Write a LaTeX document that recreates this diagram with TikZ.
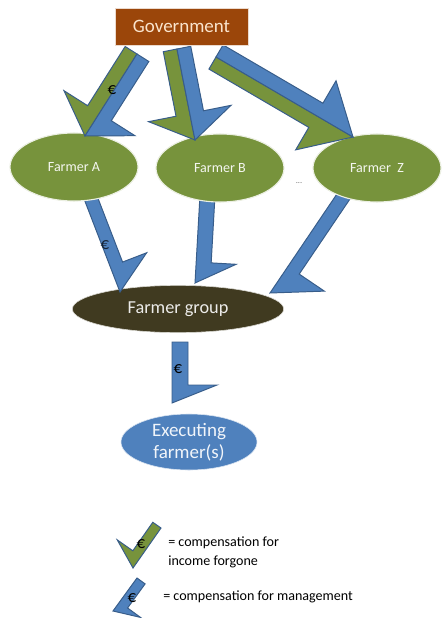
\documentclass[tikz,border=0pt]{standalone}
\usepackage{fontspec}
\setmainfont{Carlito}
\usetikzlibrary{calc,shapes.geometric}
\definecolor{GovBrown}{RGB}{155,70,10}
\definecolor{GovText}{RGB}{250,228,205}
\definecolor{FarmGreen}{RGB}{119,147,60}
\definecolor{PayBlue}{RGB}{79,129,189}
\definecolor{PayLine}{RGB}{56,93,138}
\definecolor{GroupBrown}{RGB}{64,58,32}
\tikzset{govbox/.style={rectangle,fill=GovBrown,draw=white!80!GovBrown,text=GovText,font=\fontsize{13.5}{16}\selectfont,minimum width=3.325cm,minimum height=0.925cm},
farmer/.style={ellipse,fill=FarmGreen,draw=white!85!FarmGreen,line width=0.8pt,text=white!92!FarmGreen,font=\fontsize{10}{12}\selectfont,minimum width=3.2cm,minimum height=1.7cm},
group/.style={ellipse,fill=GroupBrown,draw=white!80!GroupBrown,text=white!90!GroupBrown,font=\fontsize{13}{15}\selectfont,minimum width=5.28cm,minimum height=1.18cm},
executing/.style={ellipse,fill=PayBlue,draw=white!80!PayBlue,text=white!92!PayBlue,font=\fontsize{13.5}{15.6}\selectfont,align=center,inner sep=0pt,minimum width=3.4cm,minimum height=1.4cm},
euro/.style={inner sep=0pt,font=\fontsize{12}{14}\selectfont},
legtext/.style={anchor=west,align=left,inner sep=0pt,font=\fontsize{10}{13.5}\selectfont}}

% half arrow: fill, side (1 = barb left of travel, -1 = right), tail, tip
\newcommand{\setarrow}[3]{\def\aw{#1}\def\ah{#2}\def\ab{#3}}
\newcommand{\halfarrow}[4]{
\filldraw[fill=#1,draw=PayLine,line width=0.7pt,line join=miter] (#3) -- (#4) -- ($(#4)!\ah!(#3)!#2*\ab!-90:(#3)$) -- ($(#4)!\ah!(#3)!#2*\aw!-90:(#3)$) -- ($(#3)!#2*\aw!90:(#4)$) -- cycle;
}

\begin{document}
\begin{tikzpicture}[x=0.025cm,y=-0.025cm]
\useasboundingbox (0,0) rectangle (441,618);
% arrow ends
\coordinate (govA) at (137,54);
\coordinate (tipA) at (85,136);
\coordinate (govB) at (177,49);
\coordinate (tipB) at (195,140);
\coordinate (govZ) at (216,57);
\coordinate (tipZ) at (353,137);
\coordinate (outA) at (81,191);
\coordinate (inA) at (120,292);
\coordinate (outB) at (200,195);
\coordinate (inB) at (195,283);
\coordinate (outZ) at (343,185);
\coordinate (inZ) at (270,293);
\coordinate (grpout) at (172,342);
\coordinate (exein) at (172,403);
\coordinate (legGs) at (161,528);
\coordinate (legGe) at (133,568);
\coordinate (legBs) at (137,578);
\coordinate (legBe) at (113,611);

\node[group] (grp) at (178,309) {Farmer group};
\node[executing] (exe) at (189,442) {Executing\\farmer(s)};

% management payments
\setarrow{0.33cm}{0.675cm}{0.975cm}
\halfarrow{PayBlue}{1}{outA}{inA}
\setarrow{0.375cm}{0.525cm}{1.0cm}
\halfarrow{PayBlue}{1}{outB}{inB}
\setarrow{0.34cm}{0.8cm}{1.1cm}
\halfarrow{PayBlue}{1}{outZ}{inZ}
\setarrow{0.4cm}{0.45cm}{1.125cm}
\halfarrow{PayBlue}{1}{grpout}{exein}

\node[farmer] (farmA) at (74,167) {Farmer A};
\node[farmer] (farmB) at (220,168) {Farmer B};
\node[farmer] (farmZ) at (377,168) {Farmer\ \ Z};
\node[inner sep=0pt,text=black!55,font=\fontsize{6}{7}\selectfont] (dots) at (299,183) {...};

% government payments
\setarrow{0.35cm}{0.675cm}{1.05cm}
\halfarrow{FarmGreen}{-1}{govA}{tipA}
\halfarrow{PayBlue}{1}{govA}{tipA}
\halfarrow{FarmGreen}{-1}{govB}{tipB}
\halfarrow{PayBlue}{1}{govB}{tipB}
\setarrow{0.35cm}{1.075cm}{1.0cm}
\halfarrow{FarmGreen}{-1}{govZ}{tipZ}
\halfarrow{PayBlue}{1}{govZ}{tipZ}

\node[govbox] (gov) at (181.5,26.5) {Government};

\node[euro] (eurA) at (112,90) {€};
\node[euro,text=PayLine!40!black] (eurFA) at (105,245) {€};
\node[euro] (eurG) at (178,369) {€};

% legend
\setarrow{0.25cm}{0.35cm}{0.725cm}
\halfarrow{FarmGreen}{-1}{legGs}{legGe}
\setarrow{0.25cm}{0.275cm}{0.65cm}
\halfarrow{PayBlue}{1}{legBs}{legBe}
\node[euro] (eurLG) at (141,544) {€};
\node[euro] (eurLB) at (132,598) {€};
\node[legtext] (legG) at (168,552) {= compensation for\\income forgone};
\node[legtext] (legB) at (163,597) {= compensation for management};
\end{tikzpicture}
\end{document}
